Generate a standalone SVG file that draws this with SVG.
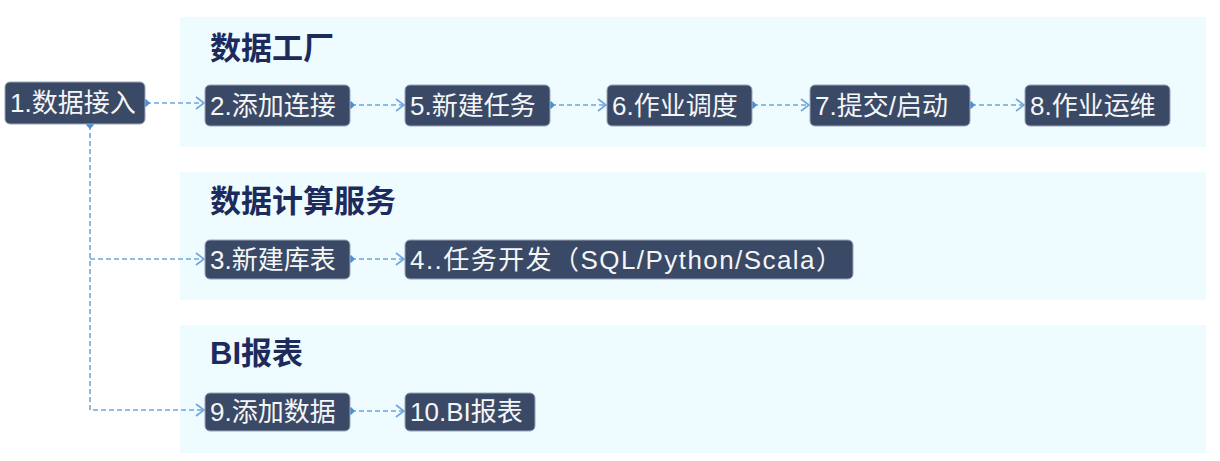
<svg xmlns="http://www.w3.org/2000/svg" width="1220" height="461" viewBox="0 0 1220 461">
<style>
.panel{fill:#eefbff}
.title{font-family:"Liberation Sans","Noto Sans CJK SC",sans-serif;font-weight:bold;font-size:31px;fill:#1c2a5c}
.node rect{fill:#3a4965;stroke:#9aa6b8;stroke-width:1}
.node text{font-family:"Liberation Sans","Noto Sans CJK SC",sans-serif;font-size:26px;fill:#f4f6f8;dominant-baseline:central}
.conn{fill:none;stroke:#6fa6dc;stroke-width:1.6;stroke-dasharray:5 3;marker-start:url(#dot);marker-end:url(#chev)}
.conn2{fill:none;stroke:#6fa6dc;stroke-width:1.6;stroke-dasharray:5 3;marker-end:url(#chev)}
</style>
<defs>
<marker id="dot" markerWidth="8" markerHeight="8" refX="4" refY="4" markerUnits="userSpaceOnUse" orient="auto">
<path d="M0,4 L4,0 L8,4 L4,8 Z" fill="#4a90d9"/>
</marker>
<marker id="chev" markerWidth="12" markerHeight="14" refX="11" refY="7" markerUnits="userSpaceOnUse" orient="auto">
<path d="M3,1 L11,7 L3,13" fill="none" stroke="#6fa6dc" stroke-width="1.6"/>
</marker>
</defs>
<rect width="1220" height="461" fill="#ffffff"/>
<g id="panels">
<rect class="panel" x="180" y="17" width="1026" height="130"/>
<rect class="panel" x="180" y="172" width="1026" height="128"/>
<rect class="panel" x="180" y="325" width="1026" height="128"/>
<text class="title" x="210" y="59">数据工厂</text>
<text class="title" x="210" y="212">数据计算服务</text>
<text class="title" x="210" y="364">BI报表</text>
</g>
<g id="connectors">
<path class="conn" d="M146,103 L204,103"/>
<path class="conn" d="M351,105 L404,105"/>
<path class="conn" d="M551,105 L606,105"/>
<path class="conn" d="M753,105 L809,105"/>
<path class="conn" d="M971,105 L1024,105"/>
<path class="conn" d="M351,259 L404,259"/>
<path class="conn" d="M351,411 L404,411"/>
<path class="conn2" d="M90,125 L90,410 L204,410" marker-start="url(#dot)"/>
<path class="conn2" d="M90,259 L204,259"/>
</g>
<g id="n1" class="node"><rect x="5" y="82" width="140" height="42" rx="5"/><text x="10" y="103">1.数据接入</text></g>
<g id="n2" class="node"><rect x="205" y="85" width="145" height="41" rx="5"/><text x="210" y="105.5">2.添加连接</text></g>
<g id="n5" class="node"><rect x="405" y="85" width="145" height="41" rx="5"/><text x="410" y="105.5">5.新建任务</text></g>
<g id="n6" class="node"><rect x="607" y="85" width="145" height="41" rx="5"/><text x="612" y="105.5">6.作业调度</text></g>
<g id="n7" class="node"><rect x="810" y="85" width="160" height="41" rx="5"/><text x="815" y="105.5">7.提交/启动</text></g>
<g id="n8" class="node"><rect x="1025" y="85" width="145" height="41" rx="5"/><text x="1030" y="105.5">8.作业运维</text></g>
<g id="n3" class="node"><rect x="205" y="240" width="145" height="39" rx="5"/><text x="210" y="259.5">3.新建库表</text></g>
<g id="n4" class="node"><rect x="405" y="240" width="448" height="39" rx="5"/><text x="410" y="259.5" textLength="432" lengthAdjust="spacing">4..任务开发（SQL/Python/Scala）</text></g>
<g id="n9" class="node"><rect x="205" y="393" width="145" height="38" rx="5"/><text x="210" y="412">9.添加数据</text></g>
<g id="n10" class="node"><rect x="405" y="393" width="130" height="38" rx="5"/><text x="410" y="412">10.BI报表</text></g>
</svg>
